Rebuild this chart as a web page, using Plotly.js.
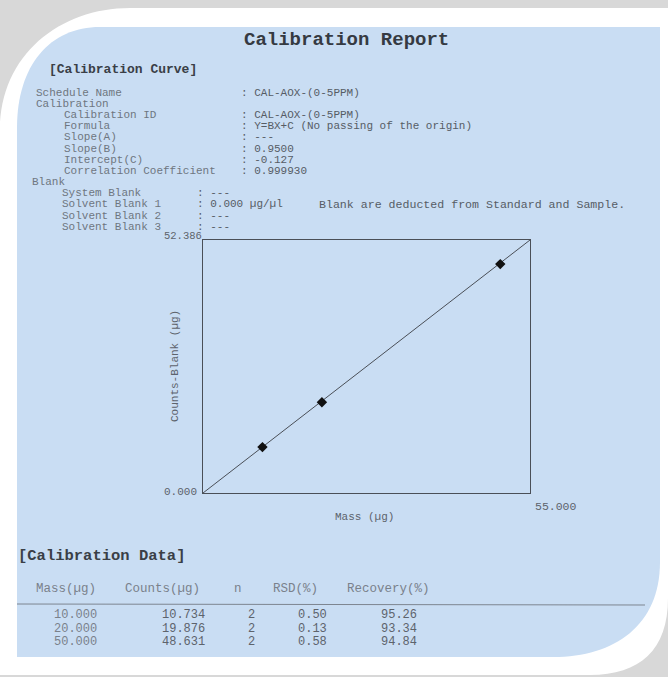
<!DOCTYPE html>
<html>
<head>
<meta charset="utf-8">
<script src="https://cdn.plot.ly/plotly-3.0.1.min.js"></script>
<style>html,body{margin:0;padding:0;background:#fff;}#chart{width:668px;height:677px;}</style>
</head>
<body>
<div id="chart"></div>
<script>
const massUg = [10.000, 20.000, 50.000];
const countsUg = [10.734, 19.876, 48.631];
const nReps = [2, 2, 2];
const rsdPct = [0.50, 0.13, 0.58];
const recoveryPct = [95.26, 93.34, 94.84];
// points as drawn on the plot (Counts-Blank vs Mass)
const plotMass = [10, 20, 50];
const plotCountsBlank = [9.5, 18.8, 47.4];
// calibration line as drawn
const fitMass = [0, 55];
const fitCounts = [0, 52.386];
const xMax = 55.000;
const yMax = 52.386;
const xTickText = ['0.000', '55.000'];
const yTickText = ['0.000', '52.386'];

const infoLabels = ['Schedule Name', 'Calibration', 'Calibration ID', 'Formula', 'Slope(A)', 'Slope(B)', 'Intercept(C)', 'Correlation Coefficient'];
const infoValues = [': CAL-AOX-(0-5PPM)', '', ': CAL-AOX-(0-5PPM)', ': Y=BX+C (No passing of the origin)', ': ---', ': 0.9500', ': -0.127', ': 0.999930'];
const infoIndent = [0, 0, 1, 1, 1, 1, 1, 1];
const blankLabels = ['System Blank', 'Solvent Blank 1', 'Solvent Blank 2', 'Solvent Blank 3'];
const blankValues = [': ---', ': 0.000 µg/µl', ': ---', ': ---'];
const tableHeaders = ['Mass(µg)', 'Counts(µg)', 'n', 'RSD(%)', 'Recovery(%)'];

// ---- helpers: pixel -> paper ----
const W = 668, H = 677;
const px = x => x / W;
const py = y => 1 - y / H;
const MONO = 'Liberation Mono, Courier New, monospace';
const ann = [];
function txt(x, y, text, opt) {
  opt = opt || {};
  ann.push({
    xref: 'paper', yref: 'paper', x: px(x), y: py(y), text: text, showarrow: false,
    xanchor: opt.xanchor || 'left', yanchor: 'middle', textangle: opt.angle || 0, borderpad: 0,
    font: {family: MONO, size: opt.size || 11, color: opt.color || '#6e7680'}
  });
}

// title & headers
txt(346, 40, '<b>Calibration Report</b>', {xanchor: 'center', size: 19, color: '#353a42'});
txt(48, 69, '<b>[Calibration Curve]</b>', {size: 13, color: '#3a3f47'});

// info block
const infoY0 = 93, lh = 11.1;
infoLabels.forEach((l, i) => {
  const y = infoY0 + i * lh;
  txt(infoIndent[i] ? 63 : 35, y, l);
  if (infoValues[i]) txt(240, y, infoValues[i], {color: '#565c65'});
});
const blankY = infoY0 + infoLabels.length * lh;
txt(31, blankY, 'Blank');
blankLabels.forEach((l, i) => {
  const y = blankY + (i + 1) * lh + 0.5;
  txt(61, y, l);
  txt(196, y, blankValues[i], {color: '#565c65'});
});
txt(318, blankY + 2 * lh + 0.5, 'Blank are deducted from Standard and Sample.', {color: '#565c65', size: 11.6});

// axis labels of chart
txt(203, 236, yTickText[1], {xanchor: 'right', size: 10.5, color: '#5d636c'});
txt(198, 492, yTickText[0], {xanchor: 'right', size: 11, color: '#5d636c'});
txt(534, 506, xTickText[1], {xanchor: 'left', size: 11.5, color: '#5d636c'});
txt(365, 517, 'Mass (µg)', {xanchor: 'center', size: 11, color: '#5d636c'});
txt(175, 366, 'Counts-Blank (µg)', {xanchor: 'center', size: 11, color: '#5d636c', angle: -90});

// calibration data table
txt(17, 556, '<b>[Calibration Data]</b>', {size: 15.5, color: '#3a3f47'});
const colRight = [98, 206, 0, 328, 418];
const headX = [35, 124, 233, 272, 346];
tableHeaders.forEach((h, i) => txt(headX[i], 589, h, {size: 12.5, color: '#7a818b'}));
const rowY0 = 615, rowH = 13.5;
massUg.forEach((m, i) => {
  const y = rowY0 + i * rowH;
  txt(colRight[0], y, m.toFixed(3), {xanchor: 'right', size: 12, color: '#7a818b'});
  txt(colRight[1], y, countsUg[i].toFixed(3), {xanchor: 'right', size: 12, color: '#5d636c'});
  txt(251, y, String(nReps[i]), {xanchor: 'center', size: 12, color: '#5d636c'});
  txt(colRight[3], y, rsdPct[i].toFixed(2), {xanchor: 'right', size: 12, color: '#5d636c'});
  txt(colRight[4], y, recoveryPct[i].toFixed(2), {xanchor: 'right', size: 12, color: '#5d636c'});
});

// ---- frame shapes (paper coords) ----
function pathPx(cmds) {
  return cmds.map(c => c[0] + ' ' + c.slice(1).map((v, k) => (k % 2 === 0 ? px(v) : py(v)).toFixed(5)).join(',')).join(' ') + ' Z';
}
const shapes = [
  {type: 'rect', xref: 'paper', yref: 'paper', x0: 0, x1: 1, y0: py(8), y1: 1, fillcolor: '#d8d8d8', line: {width: 0}, layer: 'below'},
  {type: 'path', xref: 'paper', yref: 'paper', layer: 'below', fillcolor: '#d8d8d8', line: {width: 0},
   path: pathPx([['M', 0, 0], ['L', 130, 0], ['L', 130, 8], ['C', 60, 8, 0, 55, 0, 130]])},
  {type: 'path', xref: 'paper', yref: 'paper', layer: 'below', fillcolor: '#d8d8d8', line: {width: 0},
   path: pathPx([['M', 668, 598], ['C', 668, 650, 640, 675, 590, 675], ['L', 0, 675], ['L', 0, 677], ['L', 668, 677]])},
  {type: 'path', xref: 'paper', yref: 'paper', layer: 'below', fillcolor: '#c9ddf3', line: {width: 0},
   path: pathPx([['M', 100, 27], ['L', 660, 27], ['L', 660, 562], ['C', 660, 625, 615, 657, 553, 657], ['L', 17, 657], ['L', 17, 128], ['C', 17, 65, 50, 27, 100, 27]])},
  {type: 'line', xref: 'paper', yref: 'paper', layer: 'above', x0: px(17), x1: px(645), y0: py(604), y1: py(605), line: {color: '#7d8590', width: 1}}
];

const traces = [
  {x: fitMass, y: fitCounts, type: 'scatter', mode: 'lines', line: {color: '#4a4f57', width: 1}, hoverinfo: 'skip'},
  {x: plotMass, y: plotCountsBlank, type: 'scatter', mode: 'markers', marker: {symbol: 'diamond', size: 8, color: '#111'}}
];

const layout = {
  width: W, height: H, margin: {l: 0, r: 0, t: 0, b: 0},
  paper_bgcolor: '#ffffff', plot_bgcolor: 'rgba(0,0,0,0)', showlegend: false,
  xaxis: {domain: [px(203), px(530)], range: [0, xMax], showgrid: false, zeroline: false, showticklabels: false, ticks: '',
          showline: true, mirror: true, linecolor: '#4a4f57', linewidth: 1, fixedrange: true},
  yaxis: {domain: [py(493), py(240)], range: [0, yMax], showgrid: false, zeroline: false, showticklabels: false, ticks: '',
          showline: true, mirror: true, linecolor: '#4a4f57', linewidth: 1, fixedrange: true},
  annotations: ann, shapes: shapes
};
Plotly.newPlot('chart', traces, layout, {displayModeBar: false, staticPlot: true});
</script>
</body>
</html>
